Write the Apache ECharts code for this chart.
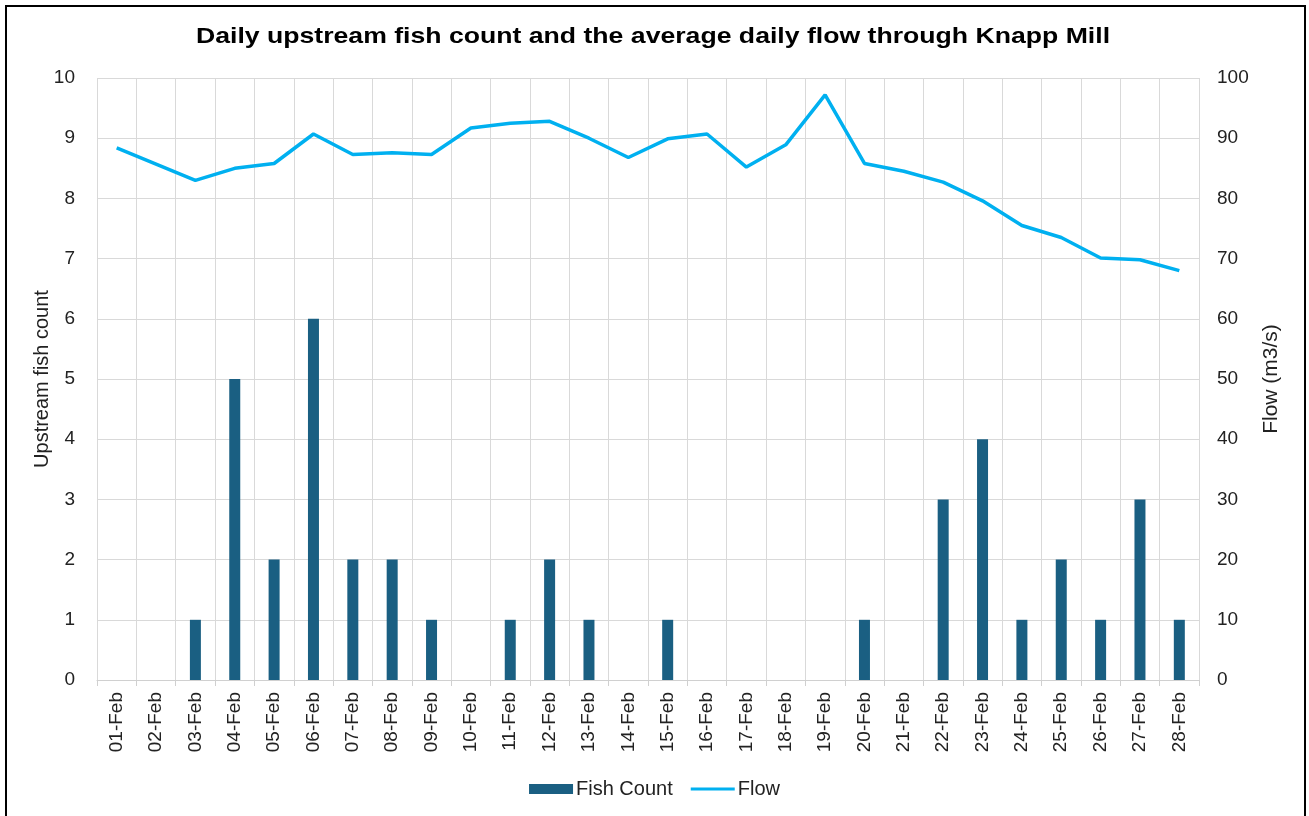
<!DOCTYPE html>
<html>
<head>
<meta charset="utf-8">
<script src="https://cdn.jsdelivr.net/npm/echarts@6/dist/echarts.min.js"></script>
<style>
  html, body { margin: 0; padding: 0; background: #fff; }
  #chart { width: 1309px; height: 816px; }
</style>
</head>
<body>
<div id="chart"></div>
<script>
// 数据
var days = ['01-Feb', '02-Feb', '03-Feb', '04-Feb', '05-Feb', '06-Feb', '07-Feb', '08-Feb', '09-Feb', '10-Feb',
  '11-Feb', '12-Feb', '13-Feb', '14-Feb', '15-Feb', '16-Feb', '17-Feb', '18-Feb', '19-Feb', '20-Feb',
  '21-Feb', '22-Feb', '23-Feb', '24-Feb', '25-Feb', '26-Feb', '27-Feb', '28-Feb'];
var fishCount = [0, 0, 1, 5, 2, 6, 2, 2, 1, 0, 1, 2, 1, 0, 1, 0, 0, 0, 0, 1, 0, 3, 4, 1, 2, 1, 3, 1];
var flow = [88.4, 85.7, 83.0, 85.0, 85.8, 90.7, 87.3, 87.6, 87.3, 91.7, 92.5, 92.8, 90.0, 86.8, 89.9, 90.7,
  85.2, 88.9, 97.2, 85.8, 84.5, 82.7, 79.6, 75.5, 73.5, 70.1, 69.8, 68.0];
var leftTicks = [0, 10];
var rightTicks = [0, 100];
var titleText = 'Daily upstream fish count and the average daily flow through Knapp Mill';

var font = 'Liberation Sans, Arial, sans-serif';
var myChart = echarts.init(document.getElementById('chart'));

var option = {
  backgroundColor: '#fff',
  animation: false,
  graphic: [{
    type: 'rect',
    shape: { x: 6, y: 6, width: 1299, height: 820 },
    style: { fill: 'none', stroke: '#000', lineWidth: 2 },
    silent: true
  }, {
    // 标题（横向拉宽）
    type: 'text',
    x: 653,
    y: 37,
    scaleX: 1.21,
    style: {
      text: titleText,
      fontFamily: font,
      fontSize: 22,
      fontWeight: 'bold',
      fill: '#000',
      align: 'center',
      verticalAlign: 'middle'
    },
    silent: true
  }],
  legend: {
    bottom: 12,
    left: 'center',
    itemGap: 18,
    itemWidth: 44,
    itemHeight: 10,
    textStyle: { fontFamily: font, fontSize: 20, color: '#222', padding: [0, 0, 0, -2] },
    data: [
      { name: 'Fish Count', icon: 'rect' },
      { name: 'Flow', icon: 'path://M0,0 L44,0 L44,3 L0,3 Z' }
    ]
  },
  grid: { left: 97, right: 110, top: 78, bottom: 136, containLabel: false },
  xAxis: {
    type: 'category',
    data: days,
    boundaryGap: true,
    axisLine: { lineStyle: { color: '#d0d0d0' } },
    axisTick: { show: true, length: 6, lineStyle: { color: '#d0d0d0' } },
    splitLine: { show: true, lineStyle: { color: '#d9d9d9' } },
    axisLabel: { rotate: 90, interval: 0, margin: 12, fontFamily: font, fontSize: 19, color: '#222' }
  },
  yAxis: [{
    type: 'value',
    min: leftTicks[0], max: leftTicks[1], interval: 1,
    name: 'Upstream fish count',
    nameLocation: 'middle',
    nameRotate: 90,
    nameGap: 45,
    nameMoveOverlap: false,
    nameTextStyle: { fontFamily: font, fontSize: 20, color: '#222' },
    axisLine: { show: false },
    axisTick: { show: false },
    splitLine: { lineStyle: { color: '#d9d9d9' } },
    axisLabel: { margin: 22, fontFamily: font, fontSize: 19, color: '#222' }
  }, {
    type: 'value',
    min: rightTicks[0], max: rightTicks[1], interval: 10,
    name: 'Flow (m3/s)',
    nameLocation: 'middle',
    nameRotate: 90,
    nameGap: 62,
    nameMoveOverlap: false,
    nameTextStyle: { fontFamily: font, fontSize: 21, color: '#222' },
    axisLine: { show: false },
    axisTick: { show: false },
    splitLine: { show: false },
    axisLabel: { margin: 18, fontFamily: font, fontSize: 19, color: '#222' }
  }],
  series: [{
    name: 'Fish Count',
    type: 'bar',
    yAxisIndex: 0,
    barWidth: 11,
    itemStyle: { color: '#1a5f82' },
    data: fishCount
  }, {
    name: 'Flow',
    type: 'line',
    yAxisIndex: 1,
    symbol: 'none',
    lineStyle: { color: '#00b0f0', width: 3.5 },
    itemStyle: { color: '#00b0f0' },
    data: flow
  }]
};

myChart.setOption(option);
</script>
</body>
</html>
